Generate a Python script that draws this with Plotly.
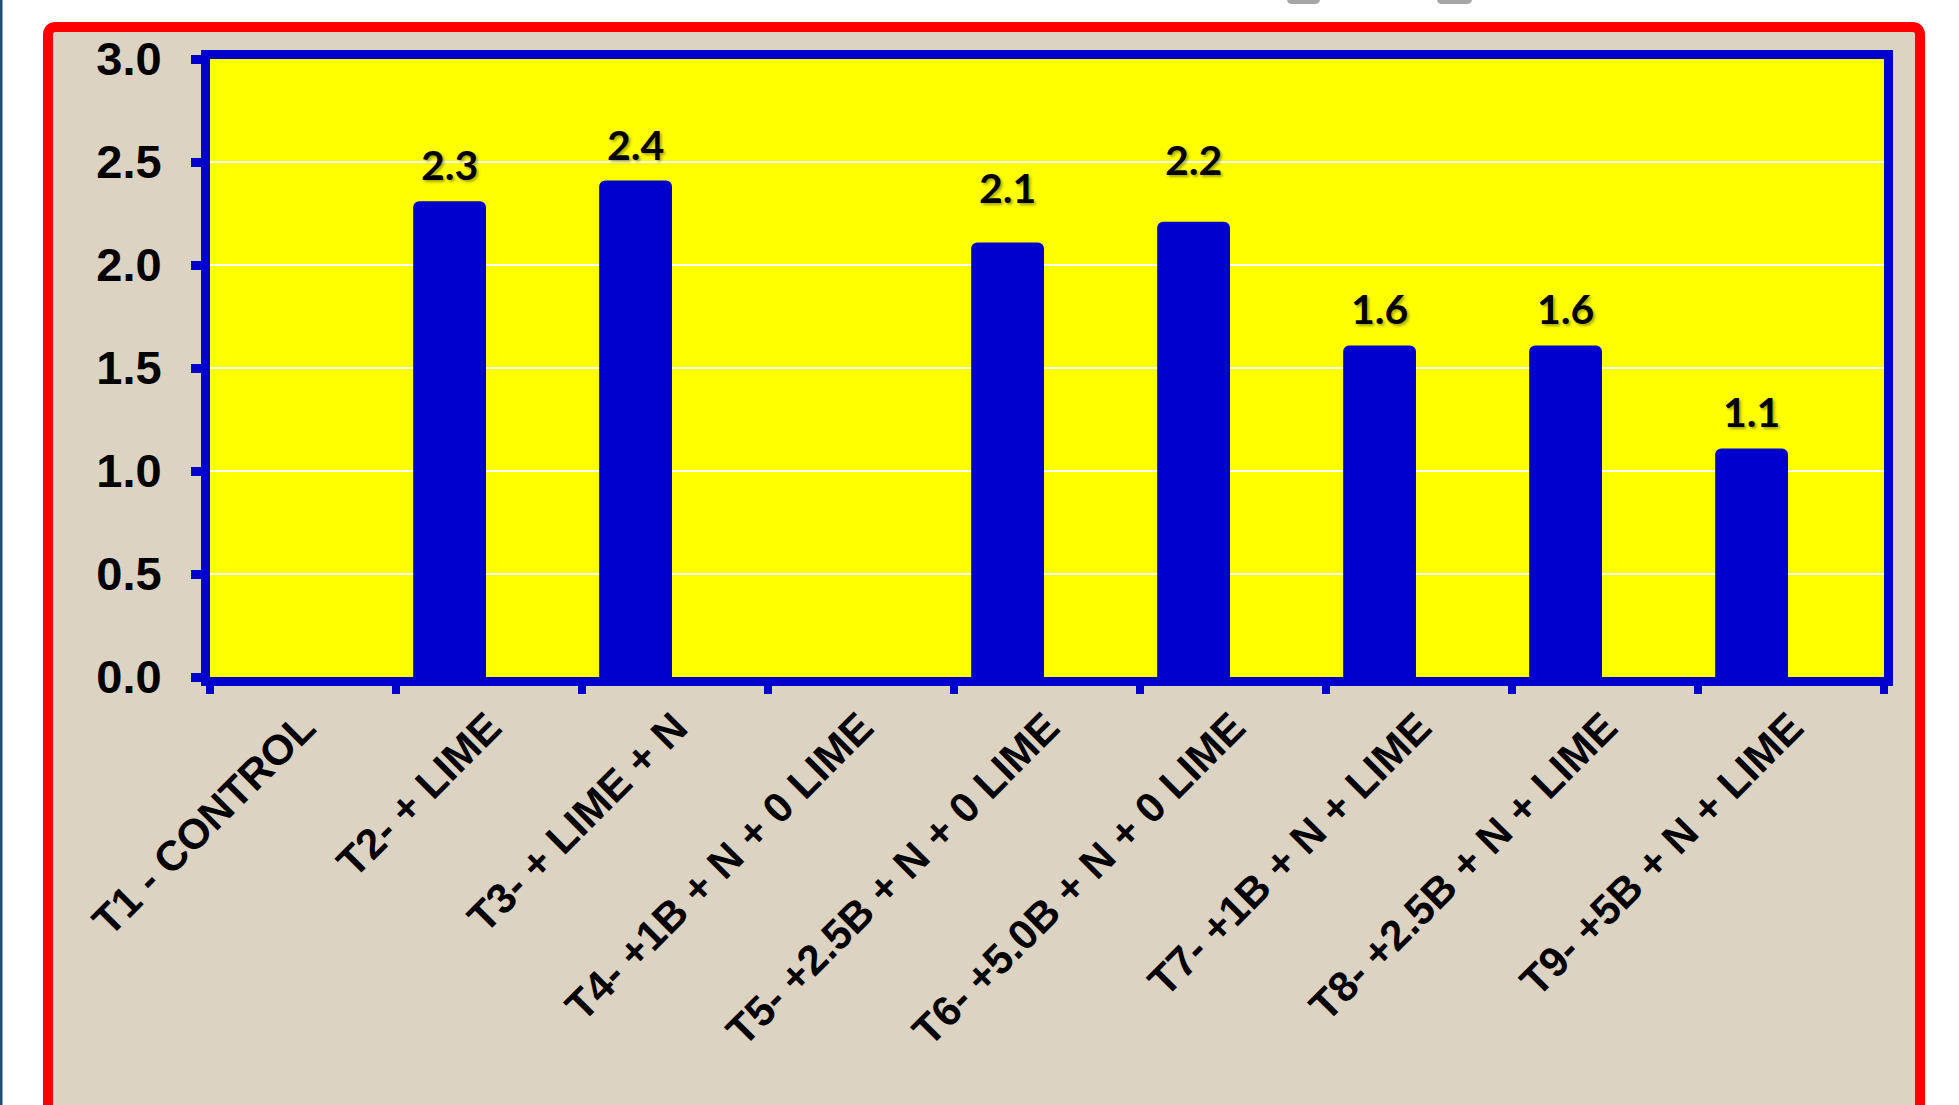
import plotly.graph_objects as go

W, H = 1959, 1105

categories = [
    "T1 - CONTROL",
    "T2- + LIME",
    "T3- + LIME + N",
    "T4- +1B + N + 0 LIME",
    "T5- +2.5B + N + 0 LIME",
    "T6- +5.0B + N + 0 LIME",
    "T7- +1B + N + LIME",
    "T8- +2.5B + N + LIME",
    "T9- +5B + N + LIME",
]
values = [None, 2.3, 2.4, None, 2.1, 2.2, 1.6, 1.6, 1.1]
y_ticks = [0.0, 0.5, 1.0, 1.5, 2.0, 2.5, 3.0]
y_tick_text = ["0.0", "0.5", "1.0", "1.5", "2.0", "2.5", "3.0"]

# extra lift (px) of some value labels, as placed in the original
label_lift = [0, 0, 0, 0, 18, 26, 0, 0, 0]

BLUE = "#0000CC"
YELLOW = "#FFFF00"
BEIGE = "#DCD3C2"
RED = "#FF0000"

# plot area in pixels
PL, PR, PT, PB = 210, 1884, 59, 677

BAR_W = 0.37      # bar width (category units)
BAR_OFF = -0.397  # bar left edge relative to category centre
CAT_PX = (PR - PL) / len(categories)


def fx(x):
    return x / W


def fy(y):
    return 1 - y / H


fig = go.Figure()
fig.add_trace(go.Bar(
    x=categories,
    y=values,
    width=BAR_W,
    offset=BAR_OFF,
    marker=dict(color=BLUE, line=dict(color=BLUE, width=4), cornerradius=4),
    hoverinfo="x+y",
))

label_font = dict(family="Lato, Open Sans, sans-serif", size=41, color="black",
                  weight="bold", shadow="2px 2px 3px rgba(0,0,0,0.35)")
annotations = []
for c, v, lift in zip(categories, values, label_lift):
    if v is None:
        continue
    annotations.append(dict(
        x=c, y=v, xref="x", yref="y", text=f"{v:.1f}", showarrow=False,
        xanchor="center", yanchor="bottom",
        xshift=(BAR_OFF + BAR_W / 2) * CAT_PX, yshift=12 + lift,
        font=label_font,
    ))


def rounded_rect(x0, y0, x1, y1, r):
    X0, X1 = fx(x0), fx(x1)
    Y0, Y1 = fy(y0), fy(y1)
    rx, ry = r / W, r / H
    return (f"M {X0+rx},{Y0} L {X1-rx},{Y0} Q {X1},{Y0} {X1},{Y0-ry} "
            f"L {X1},{Y1+ry} Q {X1},{Y1} {X1-rx},{Y1} L {X0+rx},{Y1} "
            f"Q {X0},{Y1} {X0},{Y1+ry} L {X0},{Y0-ry} Q {X0},{Y0} {X0+rx},{Y0} Z")


shapes = [
    # left dark strip
    dict(type="rect", xref="paper", yref="paper", x0=0, x1=fx(2.5), y0=0, y1=1,
         fillcolor="#1F4E79", line=dict(width=0), layer="below"),
    # grey bits at the top
    dict(type="path", xref="paper", yref="paper",
         path=rounded_rect(1287, -10, 1320, 4, 5),
         fillcolor="#A6A6A6", line=dict(width=0), layer="below"),
    dict(type="path", xref="paper", yref="paper",
         path=rounded_rect(1437, -10, 1472, 4, 5),
         fillcolor="#A6A6A6", line=dict(width=0), layer="below"),
    # red frame with beige fill
    dict(type="path", xref="paper", yref="paper",
         path=rounded_rect(48, 27, 1920, 1140, 8),
         fillcolor=BEIGE, line=dict(color=RED, width=10), layer="below"),
    # yellow plot background
    dict(type="rect", xref="paper", yref="paper",
         x0=fx(PL), x1=fx(PR), y0=fy(PB), y1=fy(PT),
         fillcolor=YELLOW, line=dict(width=0), layer="below"),
]

fig.update_layout(
    width=W, height=H,
    margin=dict(l=0, r=0, t=0, b=0),
    paper_bgcolor="white",
    plot_bgcolor=YELLOW,
    showlegend=False,
    shapes=shapes,
    annotations=annotations,
    xaxis=dict(
        domain=[fx(PL), fx(PR)],
        automargin=False,
        showline=True, linecolor=BLUE, linewidth=9, mirror=True,
        ticks="outside", tickson="boundaries", ticklen=8, tickwidth=8, tickcolor=BLUE,
        tickangle=-45,
        tickfont=dict(family="Liberation Sans, Arial, sans-serif", size=42,
                      color="black", weight="bold"),
        showgrid=False,
    ),
    yaxis=dict(
        domain=[fy(PB), fy(PT)],
        automargin=False,
        range=[0, 3],
        tickvals=y_ticks, ticktext=y_tick_text,
        showline=True, linecolor=BLUE, linewidth=9, mirror=True,
        ticks="outside", ticklen=10, tickwidth=9, tickcolor=BLUE,
        ticklabelstandoff=20,
        tickfont=dict(family="Liberation Sans, Arial, sans-serif", size=47,
                      color="black", weight="bold"),
        showgrid=True, gridcolor="white", gridwidth=2,
        zeroline=False,
    ),
)

fig.write_html("out.html")
